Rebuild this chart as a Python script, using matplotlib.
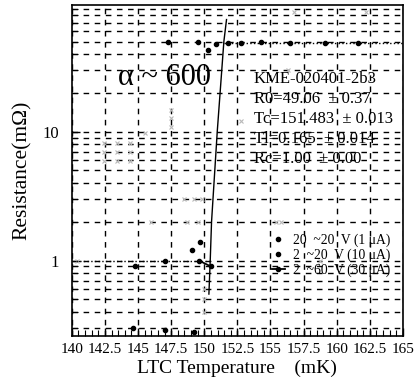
import numpy as np
import matplotlib
matplotlib.use('Agg')
import matplotlib.pyplot as plt
from matplotlib.ticker import FixedLocator, NullFormatter, FuncFormatter

plt.rcParams['font.family'] = ['Liberation Serif', 'DejaVu Serif']

# data
T_1uA = [147.3, 149.5, 150.3, 150.9, 151.8, 152.8, 154.3, 156.5, 159.1, 161.6]
R_1uA = [50, 50, 43, 48, 49, 49, 50, 49, 49, 49]

T_10uA = [144.8, 147.0, 149.1, 149.7, 144.6, 147.0, 149.2]
R_10uA = [0.90, 1.0, 1.2, 1.4, 0.30, 0.29, 0.28]

T_30uA = [149.6, 150.5]
R_30uA = [1.0, 0.90]

T_faint = [147.5, 147.5, 147.5, 145.5, 142.4, 143.4, 144.4, 142.4, 143.4, 144.4,
           142.4, 143.4, 144.4, 148.5, 149.2, 149.8, 146.0, 148.7, 149.5, 155.4,
           155.8, 150.0, 150.0, 150.0, 140.4, 158.7, 156.8, 162.2, 156.3, 152.8]
R_faint = [14.8, 12.8, 10.9, 9.8, 8.2, 8.2, 8.2, 6.9, 6.9, 6.9,
           5.96, 5.96, 5.96, 3.0, 3.0, 3.0, 2.0, 2.0, 2.0, 2.0,
           2.0, 0.6, 0.5, 0.4, 1.0, 1.0, 85, 85, 30, 12]

T_steep = [150.35, 150.45, 150.55, 150.98, 151.48, 151.68]
R_steep = [0.55, 1.0, 2.0, 10, 50, 74]

T_low_fit = [140.3, 150.4]
R_low_fit = [1.0, 1.0]
T_high_fit = [151.5, 165]
R_high_fit = [49, 49]

xticks = [140, 142.5, 145, 147.5, 150, 152.5, 155, 157.5, 160, 162.5, 165]

fig = plt.figure(figsize=(4.15, 3.84), dpi=100)
ax = fig.add_axes([0.173, 0.125, 0.798, 0.862])
ax.set_yscale('log')
ax.set_xlim(140, 165)
ax.set_ylim(0.26, 96)

# grid
ax.xaxis.set_major_locator(FixedLocator(xticks))
ax.xaxis.set_minor_locator(FixedLocator(np.arange(140, 165.01, 0.5)))
ax.xaxis.set_major_formatter(FuncFormatter(lambda v, p: ('%g' % v)))
ax.yaxis.set_major_locator(FixedLocator([1, 10]))
ax.yaxis.set_minor_locator(FixedLocator([0.3, 0.4, 0.5, 0.6, 0.7, 0.8, 0.9,
                                         2, 3, 4, 5, 6, 7, 8, 9,
                                         20, 30, 40, 50, 60, 70, 80, 90]))
ax.yaxis.set_minor_formatter(NullFormatter())
ax.yaxis.set_major_formatter(FuncFormatter(lambda v, p: '%g' % v))
ax.grid(True, which='major', axis='x', color='k', ls=(0, (4, 4)), lw=1.0)
ax.grid(True, which='both', axis='y', color='k', ls=(0, (4, 4)), lw=1.0)

ax.tick_params(which='both', direction='in', labelsize=11, colors='k')
ax.tick_params(axis='y', labelsize=12)
ax.tick_params(which='major', length=6, width=1)
ax.tick_params(which='minor', length=4, width=0.8)
ax.tick_params(axis='x', which='major', pad=5)
ax.tick_params(axis='y', which='major', pad=9)
for s in ax.spines.values():
    s.set_linewidth(1.2)

# faint background points
ax.plot(T_faint, R_faint, 'x', color='#b8b8b8', ms=3, mew=0.8, zorder=2)

# fit curves
ax.plot(T_low_fit, R_low_fit, ':', color='k', lw=1.0, zorder=3)
ax.plot(T_high_fit, R_high_fit, ':', color='k', lw=1.0, zorder=3)
ax.plot(T_steep, R_steep, '-', color='k', lw=1.0, zorder=3)

# data
ax.plot(T_1uA, R_1uA, 'o', color='k', ms=3, zorder=4, label='20  ~20  V (1 μA)')
ax.plot(T_10uA, R_10uA, 'o', color='k', ms=3, zorder=4, label='2  ~20  V (10 μA)')
ax.plot(T_30uA, R_30uA, '-o', color='k', ms=3, lw=1.3, zorder=4, label='2  ~60  V (30 μA)')

leg = ax.legend(loc='upper left', bbox_to_anchor=(0.585, 0.33), frameon=False,
                fontsize=9.8, handlelength=0.9, handletextpad=0.6,
                labelspacing=0.1, borderpad=0)

ax.text(0.14, 0.78, 'α ~ 600', transform=ax.transAxes, fontsize=22, va='center')
ax.text(0.55, 0.80,
        'KME-020401-2b3\nR0=49.06  ± 0.37\nTc=151.483  ± 0.013\n'
        'Tl=0.165  ± 0.014\nRc=1.00  ± 0.00',
        transform=ax.transAxes, fontsize=12, va='top', linespacing=1.33)

ax.set_xlabel('LTC Temperature    (mK)', fontsize=14, labelpad=3)
ax.set_ylabel('Resistance(mΩ)', fontsize=15.5, labelpad=8)

fig.savefig('out.png', dpi=100)
